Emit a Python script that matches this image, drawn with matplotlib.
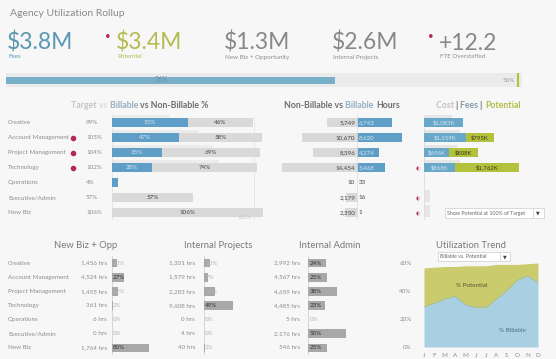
import numpy as np
import matplotlib.pyplot as plt
from matplotlib.patches import Rectangle
from matplotlib.transforms import blended_transform_factory

plt.rcParams["font.family"] = ["Lato", "DejaVu Sans"]

cats = ["Creative", "Account Management", "Project Management", "Technology",
        "Operations", "Executive/Admin", "New Biz"]

# utilisation %
target_pct = [99, 105, 104, 102, 4, 57, 106]
billable_pct = [53, 47, 35, 28, 4, 0, 0]
nonbill_pct = [46, 58, 69, 74, 0, 57, 106]
target_bar = [41, 60, 71, 75, 0, 0, 0]
over_target = [False, True, True, True, False, False, False]

# hours
nonbill_hrs = [5749, 10670, 8396, 14454, 10, 2179, 2350]
bill_hrs = [6743, 8620, 4274, 5468, 33, 16, 1]

# money ($K)
cost_k = [780, 1000, 920, 1000, 40, 170, 170]
fees_k = [1083, 1159, 696, 868, 0, 0, 0]
potential_k = [0, 795, 808, 1762, 0, 0, 0]
fin_flag = [False, False, False, True, False, True, True]

# bottom panels
newbiz_hrs = [1456, 4524, 1455, 361, 6, 0, 1764]
newbiz_pct = [10, 27, 12, 2, 0, 0, 80]
intproj_hrs = [1301, 1579, 2283, 9608, 0, 4, 40]
intproj_pct = [10, 7, 18, 49, 0, 0, 2]
intadmin_hrs = [2992, 4567, 4659, 4485, 5, 2176, 546]
intadmin_pct = [24, 25, 38, 23, 0, 50, 25]

# trend
months = list("JFMAMJJASOND")
billable_trend = [28.5, 31, 34, 36, 30, 28, 28, 34, 40, 47.5, 50.5, 46]
potential_trend = [56.5, 57, 57.5, 57.5, 58, 58, 58, 59, 59, 59, 59.5, 60]

util_actual = 36
util_target = 56

BG = "#f7f7f7"
BLUE = "#5f9ec6"
GRAYBAR = "#d9d9d9"
LIGHT = "#ebebeb"
OLIVE = "#b3c13d"
RED = "#b42a50"
TXT = "#8c8c8c"

W, H = 556, 359
fig = plt.figure(figsize=(W / 100, H / 100), dpi=100, facecolor=BG)


def add_ax(x0, y0, x1, y1):
    ax = fig.add_axes([x0 / W, 1 - y1 / H, (x1 - x0) / W, (y1 - y0) / H])
    ax.set_facecolor("none")
    for s in ax.spines.values():
        s.set_visible(False)
    ax.set_xticks([])
    ax.set_yticks([])
    return ax


def ftext(x, y, s, **kw):
    kw.setdefault("va", "center")
    return fig.text(x / W, 1 - y / H, s, **kw)


renderer = fig.canvas.get_renderer()


def multi_text(xc, y, parts, size, weight="bold"):
    texts = []
    for s, c in parts:
        t = ftext(0, y, s, color=c, fontsize=size, fontweight=weight, ha="left")
        texts.append(t)
    widths = [t.get_window_extent(renderer).width for t in texts]
    x = xc - sum(widths) / 2
    for t, w in zip(texts, widths):
        t.set_x(x / W)
        x += w


# ---- header ----
ftext(10, 13, "Agency Utilization Rollup", fontsize=7.5, color="#8a8a8a")

kpis = [(8, "$3.8M", "Fees", "#5a97b3", False),
        (117, "$3.4M", "Potential", "#b3bc50", True),
        (225, "$1.3M", "New Biz + Opportunity", "#888888", False),
        (333, "$2.6M", "Internal Projects", "#888888", False),
        (440, "+12.2", "FTE Overstaffed", "#888888", True)]
for x, big, small, col, dot in kpis:
    ftext(x - 1, 43, big, fontsize=16.5, color=col, fontweight="normal")
    scol = col if small in ("Fees", "Potential") else "#8f8f8f"
    ftext(x, 57, small, fontsize=4.5, color=scol)
    if dot:
        ftext(x - 9, 37, "\u2022", fontsize=7, color=RED, ha="center")

# progress bar
axp = add_ax(6, 73, 522, 87)
axp.set_facecolor(LIGHT)
axp.set_xlim(0, util_target + 0.45)
axp.set_ylim(-0.5, 0.5)
axp.barh(0, util_actual, height=0.5, color="#78b0c9")
axp.text(util_actual / 2 - 1, 0, f"{util_actual}%", fontsize=5, color="#6d8fa0",
         ha="center", va="center")
axp.axvline(util_target, color="#b4c23a", lw=1.5)
axp.text(util_target - 0.3, 0, f"{util_target}%", fontsize=4.5, color="#999999",
         ha="right", va="center")

rows = np.arange(len(cats))

# ---- section 1: target vs billable vs non-billable ----
multi_text(140, 105, [("Target ", "#c4c4c4"), ("vs ", "#dadada"), ("Billable ", "#93aebf"),
                      ("vs Non-Billable %", "#6f6f6f")], 6.3)
ax1 = add_ax(112, 115, 270, 220)
ax1.set_xlim(0, 158 / 142.5 * 100)
ax1.set_ylim(6.5, -0.5)
ax1.axvline(0, color="#e2e2e2", lw=0.6)
ax1.axvline(100, color="#e4e4e4", lw=0.6)
ax1.barh(rows - 0.1, target_bar, height=0.75, color="#ececec", zorder=1)
ax1.barh(rows, billable_pct, height=0.55, color=BLUE, zorder=2)
ax1.barh(rows, nonbill_pct, left=billable_pct, height=0.55, color=GRAYBAR, zorder=2)
tr1 = blended_transform_factory(fig.transFigure, ax1.transData)
for i, c in enumerate(cats):
    ax1.text(8 / W, i, c, transform=tr1, fontsize=4.5, color=TXT, va="center")
    ax1.text(86 / W, i, f"{target_pct[i]}%", transform=tr1, fontsize=4.5, color=TXT, va="center")
    if over_target[i]:
        ax1.plot(73 / W, i, "o", ms=3, color=RED, transform=tr1, clip_on=False)
    if billable_pct[i] >= 10:
        ax1.text(billable_pct[i] / 2, i, f"{billable_pct[i]}%", fontsize=4.5,
                 color="#d5e6f1", ha="center", va="center", zorder=3)
    if nonbill_pct[i] >= 10:
        ax1.text(billable_pct[i] + nonbill_pct[i] / 2, i, f"{nonbill_pct[i]}%",
                 fontsize=4.5, color="#444444", ha="center", va="center", zorder=3)
ax1.text(98, 6.35, "100%", fontsize=4, color="#c8c8c8", ha="right", va="center")

# ---- section 2: hours ----
multi_text(342, 105, [("Non-Billable vs ", "#6f6f6f"), ("Billable ", "#93aebf"),
                      ("Hours", "#6f6f6f")], 6.3)
ax2 = add_ax(280, 115, 412, 220)
scale = 5.2 / 1000
ax2.set_xlim(-(357 - 280) / scale, (412 - 357) / scale)
ax2.set_ylim(6.5, -0.5)
ax2.axvline(0, color="#dddddd", lw=0.6)
ax2.barh(rows, [-v for v in nonbill_hrs], height=0.55, color=GRAYBAR)
ax2.barh(rows, bill_hrs, height=0.55, color=BLUE)
for i in rows:
    ax2.text(-350, i, f"{nonbill_hrs[i]:,}", fontsize=4.5, color="#444444",
             ha="right", va="center")
    bc = "#d5e6f1" if bill_hrs[i] > 1000 else "#444444"
    ax2.text(350, i, f"{bill_hrs[i]:,}", fontsize=4.5, color=bc, ha="left", va="center")

# ---- section 3: cost / fees / potential ----
multi_text(478, 105, [("Cost ", "#c4c4c4"), ("| ", "#777777"), ("Fees ", "#7f9aab"),
                      ("| ", "#777777"), ("Potential", "#b3bd45")], 6.3)
ax3 = add_ax(424, 115, 548, 220)
ax3.set_xlim(0, 124 / 36 * 1000)
ax3.set_ylim(6.5, -0.5)
ax3.axvline(0, color="#dddddd", lw=0.6)
ax3.barh(rows - 0.1, cost_k, height=0.8, color="#e6e6e6", zorder=1)
ax3.barh(rows, fees_k, height=0.55, color="#6aa8ca", zorder=2)
ax3.barh(rows, potential_k, left=fees_k, height=0.55, color=OLIVE, zorder=2)
tr3 = blended_transform_factory(fig.transFigure, ax3.transData)
for i in rows:
    if fees_k[i]:
        ax3.text(fees_k[i] / 2, i, f"${fees_k[i]:,}K", fontsize=4.3, color="#d5e6f1",
                 ha="center", va="center", zorder=3)
    if potential_k[i]:
        ax3.text(fees_k[i] + potential_k[i] / 2, i, f"${potential_k[i]:,}K", fontsize=4.3,
                 color="#3a3a1a", ha="center", va="center", zorder=3)
    if fin_flag[i]:
        ax3.plot(418 / W, i, "o", ms=3, fillstyle="left", markerfacecolor=RED,
                 markerfacecoloralt="#dddddd", markeredgewidth=0, transform=tr3, clip_on=False)

# dropdown
fig.patches.append(Rectangle((445 / W, 1 - 218 / H), 99 / W, 10 / H, transform=fig.transFigure,
                             facecolor="white", edgecolor="#cccccc", lw=0.5))
ftext(447, 213, "Show Potential at 100% of Target", fontsize=3.8, color="#666666")
ftext(538, 213, "\u25bc", fontsize=3.5, color="#444444", ha="center")
fig.add_artist(plt.Line2D([533 / W, 533 / W], [1 - 217 / H, 1 - 209 / H], color="#cccccc", lw=0.5))


# ---- bottom panels ----
def hours_panel(xc, title, hrs_right, bar_x0, px100, hrs, pct, labels=False):
    ftext(xc, 246, title, fontsize=6.8, color="#7a7a7a", ha="center")
    ax = add_ax(bar_x0, 256, bar_x0 + 1.15 * px100, 355)
    ax.set_xlim(0, 115)
    ax.set_ylim(6.5, -0.5)
    ax.axvline(0, color="#d0d0d0", lw=0.6)
    tr = blended_transform_factory(fig.transFigure, ax.transData)
    ax.barh(rows, pct, height=0.62, color="#a8a8a8", zorder=2)
    for i in rows:
        if labels:
            ax.text(8 / W, i, cats[i], transform=tr, fontsize=4.5, color=TXT, va="center")
        ax.text(hrs_right / W, i, f"{hrs[i]:,} hrs", transform=tr, fontsize=4.5,
                color=TXT, ha="right", va="center")
        col = "#333333" if pct[i] >= 20 else "#b5b5b5"
        ax.text(2, i, f"{pct[i]}%", fontsize=4.5, color=col, va="center", zorder=3)
    return ax


hours_panel(86, "New Biz + Opp", 107, 112, 46, newbiz_hrs, newbiz_pct, labels=True)
hours_panel(218, "Internal Projects", 195, 204, 59, intproj_hrs, intproj_pct)
hours_panel(330, "Internal Admin", 300, 308, 76, intadmin_hrs, intadmin_pct)

# ---- utilization trend ----
ftext(471, 245, "Utilization Trend", fontsize=6.8, color="#7a7a7a", ha="center")
fig.patches.append(Rectangle((438 / W, 1 - 261 / H), 72 / W, 9 / H, transform=fig.transFigure,
                             facecolor="white", edgecolor="#cccccc", lw=0.5))
ftext(440, 256.5, "Billable vs. Potential", fontsize=3.8, color="#666666")
ftext(505, 256.5, "\u25bc", fontsize=3.5, color="#444444", ha="center")
fig.add_artist(plt.Line2D([500 / W, 500 / W], [1 - 260 / H, 1 - 253 / H], color="#cccccc", lw=0.5))

axt = add_ax(424, 263, 538, 347)
x = np.arange(len(months))
axt.fill_between(x, 0, billable_trend, color="#a9d0e2", lw=0)
axt.fill_between(x, billable_trend, potential_trend, color="#c9cb6d", lw=0)
axt.plot(x, billable_trend, color="#8fb9cc", lw=0.6)
axt.set_xlim(0, len(months) - 1)
axt.set_ylim(0, 60)
axt.set_yticks([0, 20, 40, 60], ["0%", "20%", "40%", "60%"])
axt.set_xticks(x, months)
axt.tick_params(length=0, labelsize=4.5, labelcolor=TXT, pad=9)
axt.tick_params(axis="x", pad=4)
axt.text(4.6, 44, "% Potential", fontsize=4.5, color="#555533", ha="center", va="center")
axt.text(8.5, 12, "% Billable", fontsize=4.5, color="#4d6e7d", ha="center", va="center")

fig.savefig("out.png", dpi=100, facecolor=BG)
